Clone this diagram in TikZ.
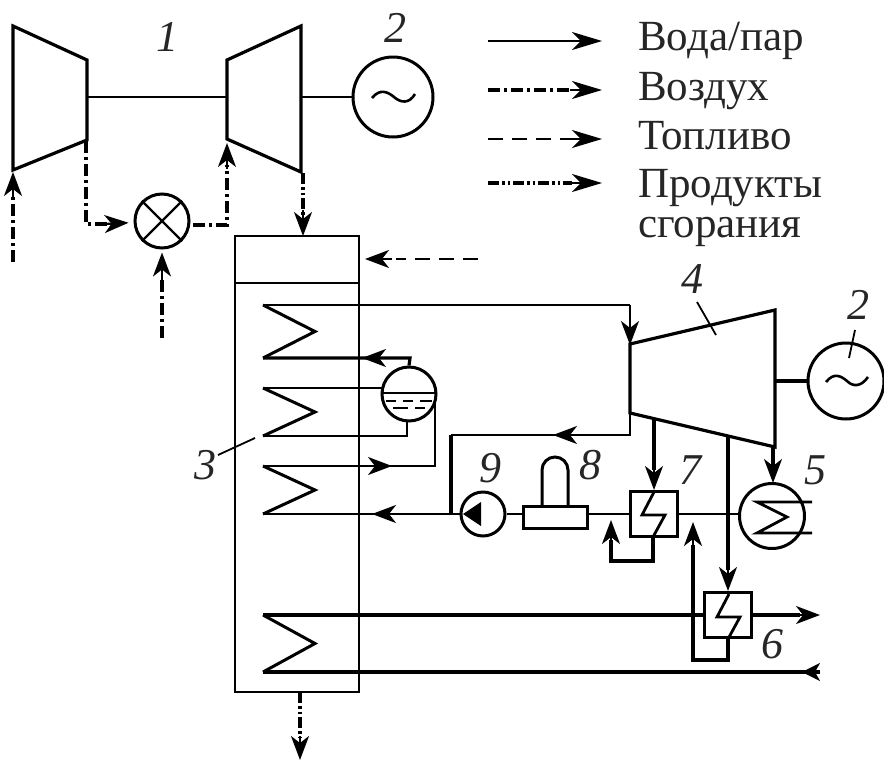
\documentclass[tikz,border=0pt]{standalone}
\usepackage{fontspec}
\setmainfont{Liberation Serif}
\usetikzlibrary{arrows.meta}
\tikzset{
 x=1pt,y=-1pt,
 line/.style={line width=2.2pt,line join=miter},
 heavy/.style={line width=3.2pt},
 flow/.style={-{Stealth[length=24pt,width=18pt,inset=7pt]}},
 air/.style={line width=3.8pt,dash pattern=on 12pt off 4pt on 3pt off 4pt},
 fuel/.style={line width=2.6pt,dash pattern=on 15pt off 9pt},
 gas/.style={line width=3.4pt,dash pattern=on 11pt off 3pt on 2.5pt off 3pt on 2.5pt off 3pt},
 num/.style={font=\fontsize{44}{44}\selectfont\itshape,inner sep=0pt,text=black!85},
 leg/.style={font=\fontsize{43}{43}\selectfont,anchor=base west,inner sep=0pt,text=black!85},
 hxbox/.style={draw,line width=3pt,minimum width=47pt,minimum height=45pt,inner sep=0pt,fill=white},
 ring/.style={draw,circle,line width=3pt,inner sep=0pt},
 coilline/.style={line width=3pt,line join=miter,miter limit=6},
}
\newcommand{\coilshape}[2]{\draw[coilline] (263,#1) -- (315,{(#1+#2)/2}) -- (263,#2);}
\begin{document}
\begin{tikzpicture}
\useasboundingbox (0,0) rectangle (884,761);
\coordinate (cOutA) at (86,141);
\coordinate (cIn) at (13,262);
\coordinate (cInEnd) at (13,172);
\coordinate (tIn) at (227,143);
\coordinate (tOut) at (303,173);
% gas turbine
\draw[line width=3.2pt,line join=miter] (13,26) -- (87,60) -- (87,140) -- (13,170) -- cycle;
\draw[line width=3.2pt,line join=miter] (227,60) -- (301,26) -- (301,172) -- (227,139) -- cycle;
\draw[line] (87,97) -- (227,97);
\node[ring,minimum size=80pt] (g1) at (393,97) {};
\draw[line] (301,97) -- (g1);
\draw[line width=2.6pt] (372,98) .. controls (380,88) and (388,92) .. (394,97) .. controls (401,103) and (409,104) .. (415,94);
% mixer
\node[ring,minimum size=54pt] (mx) at (162,221) {};
\draw[line] (mx.north west) -- (mx.south east) (mx.north east) -- (mx.south west);
\draw[air] (cOutA) -- (86,224) -- (108,224);
\draw[air] (cIn) -- (13,195);
\draw[air] (162,338) -- (162,278);
\draw[air] (193,225) -- (227,225) -- (227,165);
\draw[gas] (tOut) -- (303,215);
\draw[line,flow,shorten >=5pt] (105,224) -- (mx);
\draw[line,flow] (13,198) -- (cInEnd);
\draw[line,flow,shorten >=3pt] (162,282) -- (mx);
\draw[line,flow] (227,169) -- (tIn);
% boiler
\draw[line] (235,236) rectangle (359,692);
\draw[line] (235,283) -- (359,283);
\coordinate (bTop) at (303,236);
\draw[line,flow] (303,210) -- (bTop);
\draw[fuel] (478,259) -- (396,259);
\draw[line,flow] (392,259) -- (365,259);
% coils
\coilshape{305}{358}
\coilshape{388}{436}
\coilshape{466}{514}
\coilshape{615}{672}
% drum
\node[ring,minimum size=54pt] (dr) at (409,394) {};
\draw[line width=2.4pt] (383,393) -- (435,393);
\draw[line width=1.6pt] (386,401) -- (396,401) (403,401) -- (413,401) (420,401) -- (432,401)
 (393,408) -- (408,408) (415,408) -- (425,408);
% steam turbine
\draw[line width=3.2pt,line join=miter] (630,344) -- (775,310) -- (775,447) -- (630,413) -- cycle;
\draw[line] (263,305) -- (630,305);
\draw[line,flow] (630,305) -- (630,345);
\draw[heavy] (263,358) -- (410,358) -- (dr.north);
\draw[line,flow] (386,358) -- (362,358);
\draw[line] (263,388) -- (383,388);
\draw[line] (263,436) -- (407,436) -- (407,420);
\draw[line] (263,466) -- (435,466) -- (435,400);
\draw[line,flow] (368,466) -- (392,466);
\node[ring,minimum size=76pt] (g2) at (846,381) {};
\draw[line width=4pt] (775,381) -- (g2);
\draw[line width=2.6pt] (826,382) .. controls (834,372) and (841,376) .. (847,381) .. controls (853,387) and (861,387) .. (868,377);
\draw[line width=1.8pt] (855,330) -- (849,358);
\draw[line width=1.8pt] (697,302) -- (716,335);
% pump, deaerator
\node[ring,minimum size=44pt] (pu) at (483,514) {};
\fill (463,514) -- (481,502) -- (481,526) -- cycle;
\draw[line] (263,514) -- (pu);
\draw[line,flow] (396,514) -- (372,514);
\draw[line width=3.2pt] (451,514) -- (451,435);
\draw[line] (451,435) -- (630,435) -- (630,413);
\draw[line,flow] (577,435) -- (553,435);
\draw[line width=3pt] (523,506) rectangle (587,528);
\draw[line width=3pt] (542,506) -- (542,470) arc (-180:0:13) -- (568,506);
\draw[line] (pu) -- (523,514);
% exchanger 7
\node[hxbox] (h7) at (654,514) {};
\draw[line] (587,514) -- (h7);
\draw[line width=2.8pt,line join=miter] (654,492) -- (642,515) -- (665,515) -- (653,537);
\draw[line width=3.2pt] (654,420) -- (654,470);
\draw[line,flow] (654,465) -- (h7.north);
\draw[line width=3.2pt] (653,536) -- (653,561) -- (611,561) -- (611,540);
\draw[line,flow] (611,544) -- (611,520);
% condenser 5
\node[ring,minimum size=65pt] (cd) at (772,516) {};
\draw[line] (h7.east) -- (h7.east -| cd.west);
\draw[line width=2.8pt,line join=miter] (812,502) -- (757,502) -- (787,517) -- (757,533) -- (812,533);
\draw[line width=3.2pt] (773,447) -- (773,465);
\draw[line,flow] (773,459) -- (773,483);
% bottom water lines, then exchanger 6 on top
\coordinate (hotOut) at (820,615);
\coordinate (hotIn) at (820,672);
\draw[line width=3.2pt] (728,638) -- (728,660) -- (693,660) -- (693,545);
\draw[line,flow] (693,546) -- (693,522);
\draw[heavy] (263,615) -- (800,615);
\draw[line,flow] (796,615) -- (hotOut);
\node[hxbox] (h6) at (728,615) {};
\draw[line width=2.8pt,line join=miter] (729,594) -- (717,617) -- (740,617) -- (728,639);
\draw[line width=3.2pt] (728,436) -- (728,570);
\draw[line,flow] (728,567) -- (h6.north);
\draw[heavy] (hotIn) -- (263,672);
\draw[line,-{Stealth[length=18pt,width=18pt,inset=5pt]}] (820,672) -- (802,672);
% bottom exhaust
\coordinate (gasEnd) at (300,760);
\draw[gas] (300,692) -- (300,738);
\draw[line,flow] (300,736) -- (gasEnd);
% legend
\coordinate (la) at (488,41); \coordinate (lb) at (602,41);
\coordinate (lc) at (488,90); \coordinate (ld) at (602,90);
\coordinate (le) at (488,139); \coordinate (lf) at (602,139);
\coordinate (lg) at (488,183); \coordinate (lh) at (602,183);
\tikzset{bighead/.style={-{Stealth[length=30pt,width=18pt,inset=9pt]}}}
\draw[line,bighead] (la) -- (lb);
\draw[air] (lc) -- (572,90); \draw[line,bighead] (570,90) -- (ld);
\draw[fuel] (le) -- (565,139); \draw[line,bighead] (565,139) -- (lf);
\draw[gas] (lg) -- (572,183); \draw[line,bighead] (570,183) -- (lh);
\node[leg] (t1) at (638,50) {Вода/пар};
\node[leg] (t2) at (638,100) {Воздух};
\node[leg] (t3) at (638,149) {Топливо};
\node[leg] (t4) at (638,197) {Продукты};
\node[leg] (t5) at (638,237) {сгорания};
% numbers
\node[num] (n1) at (167,37) {1};
\node[num] (n2a) at (395,28) {2};
\node[num] (n3) at (205,465) {3};
\node[num] (n4) at (692,279) {4};
\node[num] (n2b) at (858,305) {2};
\node[num] (n5) at (815,470) {5};
\node[num] (n6) at (772,644) {6};
\node[num] (n7) at (690,470) {7};
\node[num] (n8) at (590,465) {8};
\node[num] (n9) at (490,468) {9};
\draw[line width=1.8pt] (218,455) -- (255,438);
\end{tikzpicture}
\end{document}
